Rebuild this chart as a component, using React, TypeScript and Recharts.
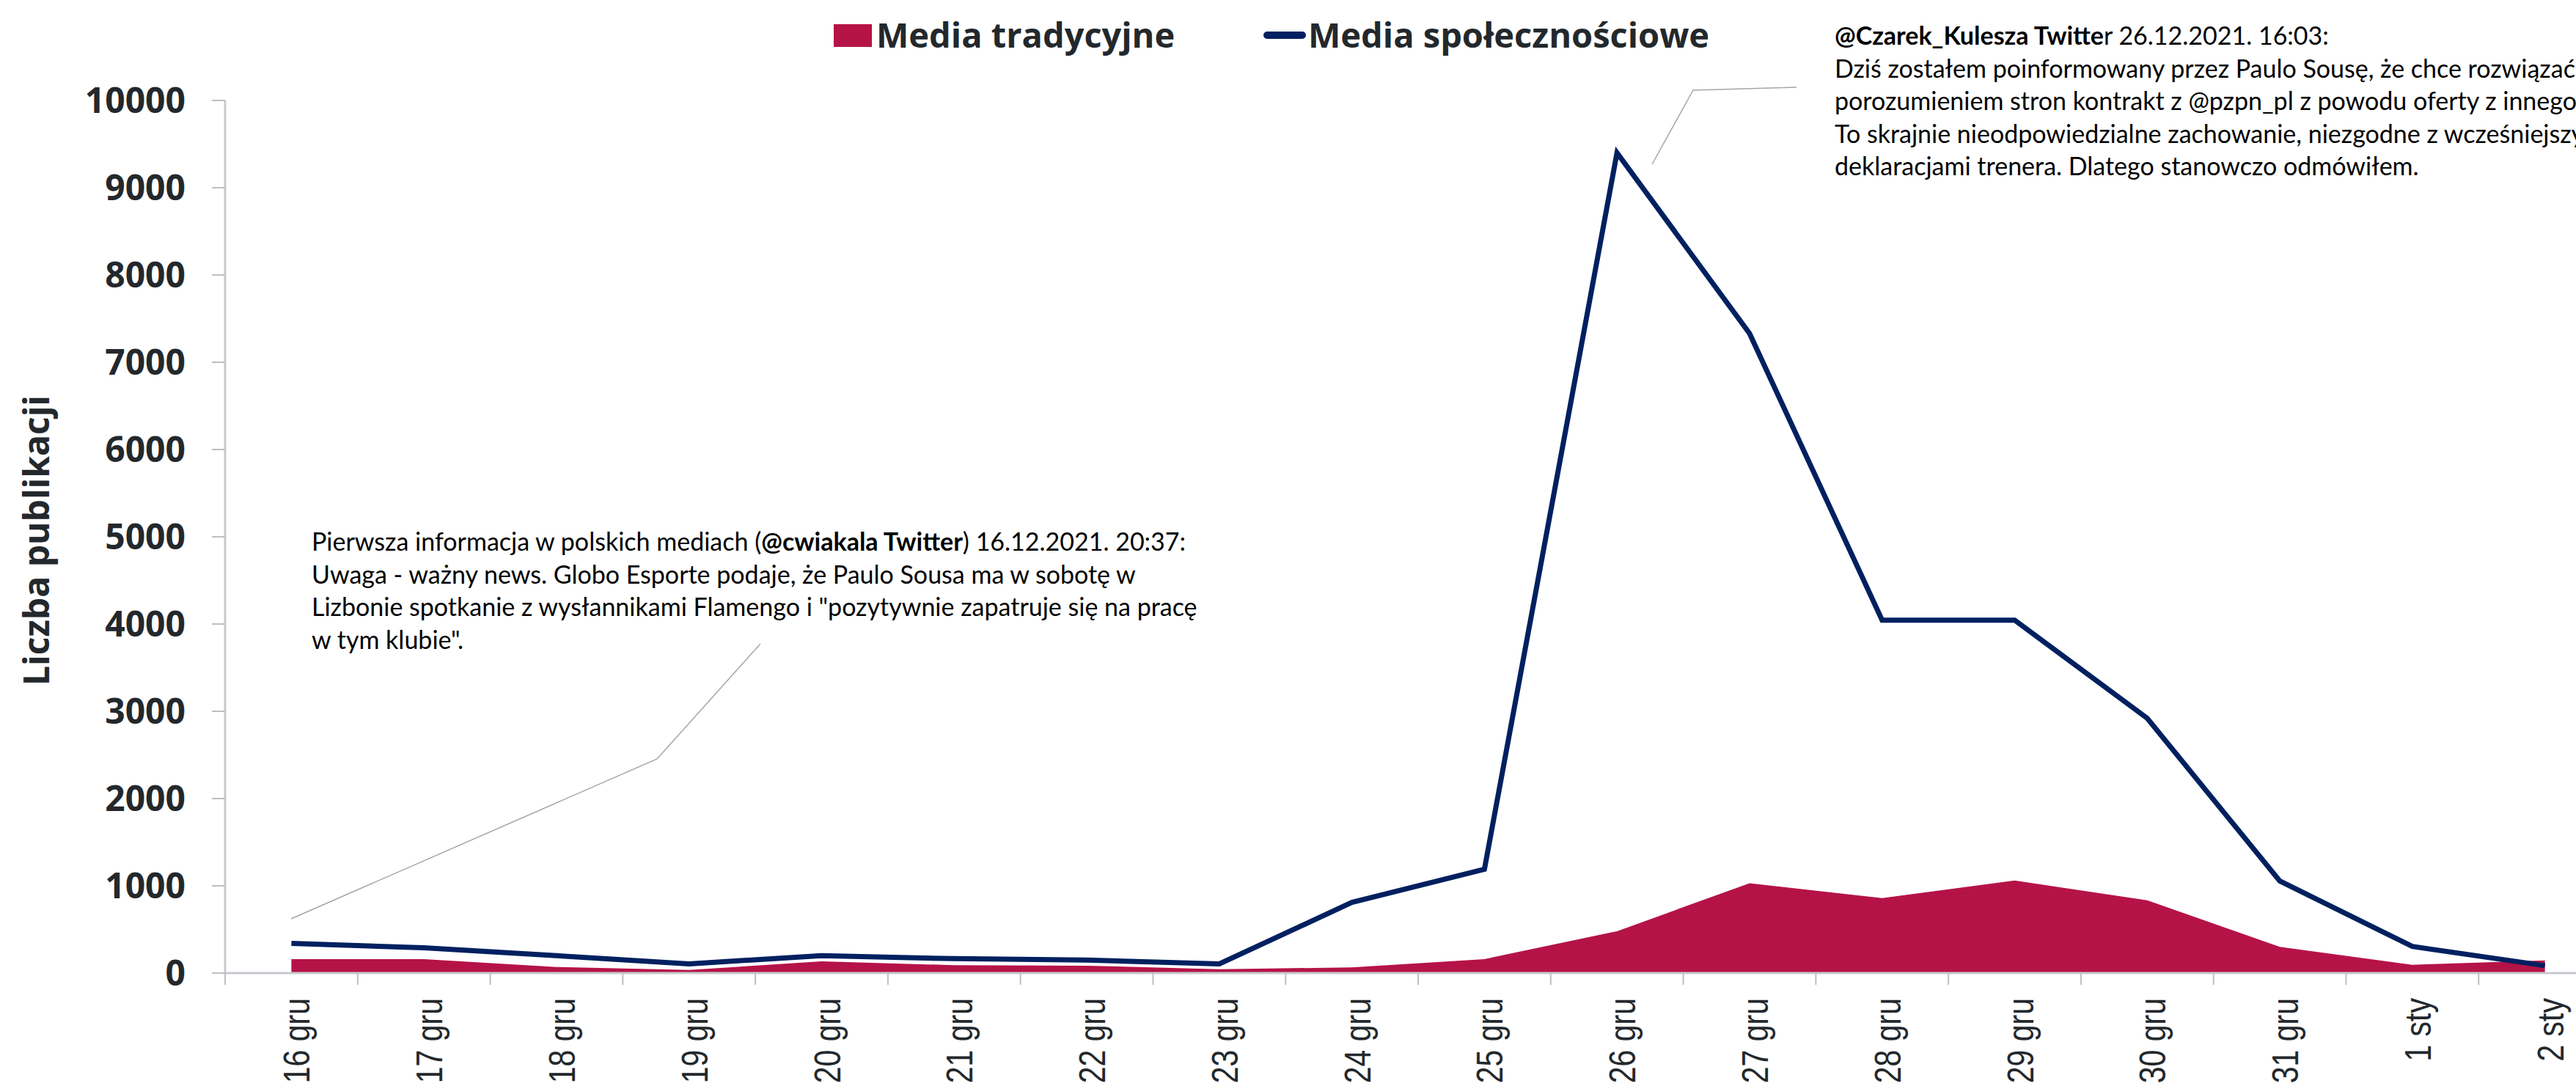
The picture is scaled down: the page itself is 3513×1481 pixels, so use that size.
import { ComposedChart, Area, Line, XAxis, YAxis } from 'recharts'

// dni: 16 gru 2021 - 2 sty 2022
const categories = [
    '16 gru', '17 gru', '18 gru', '19 gru', '20 gru', '21 gru', '22 gru', '23 gru', '24 gru',
    '25 gru', '26 gru', '27 gru', '28 gru', '29 gru', '30 gru', '31 gru', '1 sty', '2 sty',
]
const traditionalMedia = [160, 160, 70, 35, 135, 90, 85, 45, 65, 160, 480, 1030, 860, 1060, 835, 300, 95, 145]
const socialMedia = [340, 290, 200, 105, 200, 165, 150, 105, 810, 1190, 9400, 7330, 4045, 4045, 2920, 1055, 305, 85]
const yTicks = [0, 1000, 2000, 3000, 4000, 5000, 6000, 7000, 8000, 9000, 10000]

const traditionalName = 'Media tradycyjne'
const socialName = 'Media społecznościowe'
const yTitle = 'Liczba publikacji'

const RED = '#b51348'
const NAVY = '#002060'
const TEXT = '#23282c'
const AXIS = '#c6cacf'
const TICK = '#bfbfbf'
const BOLD_FONT = "'Open Sans', 'Noto Sans', sans-serif"
const NOTE_FONT = "Lato, 'Open Sans', sans-serif"

const data = categories.map((label, i) => ({
    idx: i,
    label,
    traditional: traditionalMedia[i],
    social: socialMedia[i],
}))

// ticks at category centres (labels) and at category borders (short tick lines)
const xTicks = categories.flatMap((_, i) => [i - 0.5, i]).concat(categories.length - 0.5)

function XTick(props: any) {
    const { x, y, payload } = props
    const v = payload.value
    if (!Number.isInteger(v)) {
        return <line x1={x} x2={x} y1={y} y2={y + 16} stroke={TICK} strokeWidth={2} />
    }
    // narrow look: squeeze the rotated label along its length
    return (
        <g transform={`translate(${x}, ${y + 34}) rotate(-90) scale(0.82, 1)`}>
            <text
                x={0}
                y={0}
                dy={25}
                textAnchor="end"
                fill={TEXT}
                style={{ fontFamily: "'Liberation Sans', Arial, sans-serif", fontSize: 50 }}
            >
                {categories[v]}
            </text>
        </g>
    )
}

export default function App() {
    return (
        <div style={{ position: 'absolute', left: 0, top: 0, width: 3513, height: 1481, overflow: 'hidden', background: '#fff' }}>
            <div style={{ position: 'absolute', left: 0, top: 0 }}>
                <ComposedChart width={3600} height={1481} data={data} margin={{ top: 137, right: 39, bottom: 0, left: 0 }}>
                    <XAxis
                        dataKey="idx"
                        type="number"
                        domain={[-0.5, categories.length - 0.5]}
                        ticks={xTicks}
                        interval={0}
                        tick={<XTick />}
                        tickLine={false}
                        tickSize={0}
                        tickMargin={0}
                        height={154}
                        axisLine={{ stroke: AXIS, strokeWidth: 3 }}
                    />
                    <YAxis
                        domain={[0, 10000]}
                        ticks={yTicks}
                        interval={0}
                        width={307}
                        tickSize={18}
                        tickMargin={36}
                        axisLine={{ stroke: AXIS, strokeWidth: 3 }}
                        tickLine={{ stroke: TICK, strokeWidth: 2 }}
                        tick={{ fill: TEXT, fontSize: 48, fontWeight: 700, fontFamily: BOLD_FONT }}
                    />
                    <Area
                        type="linear"
                        dataKey="traditional"
                        name={traditionalName}
                        fill={RED}
                        fillOpacity={1}
                        stroke="none"
                        isAnimationActive={false}
                    />
                    <Line
                        type="linear"
                        dataKey="social"
                        name={socialName}
                        stroke={NAVY}
                        strokeWidth={7}
                        dot={false}
                        isAnimationActive={false}
                    />
                </ComposedChart>
            </div>

            {/* legend */}
            <div style={{ position: 'absolute', left: 1137, top: 33, width: 52, height: 31, background: RED }} />
            <div style={{ position: 'absolute', left: 1195, top: 14, fontFamily: BOLD_FONT, fontWeight: 700, fontSize: 47, lineHeight: '66px', color: TEXT, whiteSpace: 'nowrap' }}>
                {traditionalName}
            </div>
            <div style={{ position: 'absolute', left: 1723, top: 43, width: 58, height: 10, borderRadius: 5, background: NAVY }} />
            <div style={{ position: 'absolute', left: 1784, top: 14, fontFamily: BOLD_FONT, fontWeight: 700, fontSize: 47, lineHeight: '66px', color: TEXT, whiteSpace: 'nowrap' }}>
                {socialName}
            </div>

            {/* axis title + leader lines */}
            <svg width={3513} height={1481} style={{ position: 'absolute', left: 0, top: 0, pointerEvents: 'none' }}>
                <text
                    x={67}
                    y={737}
                    transform="rotate(-90, 67, 737)"
                    textAnchor="middle"
                    fill={TEXT}
                    style={{ fontFamily: BOLD_FONT, fontWeight: 700, fontSize: 48 }}
                >
                    {yTitle}
                </text>
                <polyline points="397,1253 896,1035 1037,878" fill="none" stroke="#a6a6a6" strokeWidth={1.5} />
                <polyline points="2253,224 2309,123 2450,119" fill="none" stroke="#a6a6a6" strokeWidth={1.5} />
            </svg>

            {/* annotations */}
            <div style={{ position: 'absolute', left: 425, top: 716, fontFamily: NOTE_FONT, fontSize: 34, lineHeight: '44.5px', color: '#000', whiteSpace: 'nowrap' }}>
                <div>Pierwsza informacja w polskich mediach (<b>@cwiakala Twitter</b>) 16.12.2021. 20:37:</div>
                <div>Uwaga - ważny news. Globo Esporte podaje, że Paulo Sousa ma w sobotę w</div>
                <div>Lizbonie spotkanie z wysłannikami Flamengo i "pozytywnie zapatruje się na pracę</div>
                <div>w tym klubie".</div>
            </div>
            <div style={{ position: 'absolute', left: 2502, top: 26, fontFamily: NOTE_FONT, fontSize: 34, lineHeight: '44.5px', color: '#000', whiteSpace: 'nowrap' }}>
                <div><b>@Czarek_Kulesza Twitte</b>r 26.12.2021. 16:03:</div>
                <div>Dziś zostałem poinformowany przez Paulo Sousę, że chce rozwiązać za</div>
                <div>porozumieniem stron kontrakt z @pzpn_pl z powodu oferty z innego klubu.</div>
                <div>To skrajnie nieodpowiedzialne zachowanie, niezgodne z wcześniejszymi</div>
                <div>deklaracjami trenera. Dlatego stanowczo odmówiłem.</div>
            </div>
        </div>
    )
}
